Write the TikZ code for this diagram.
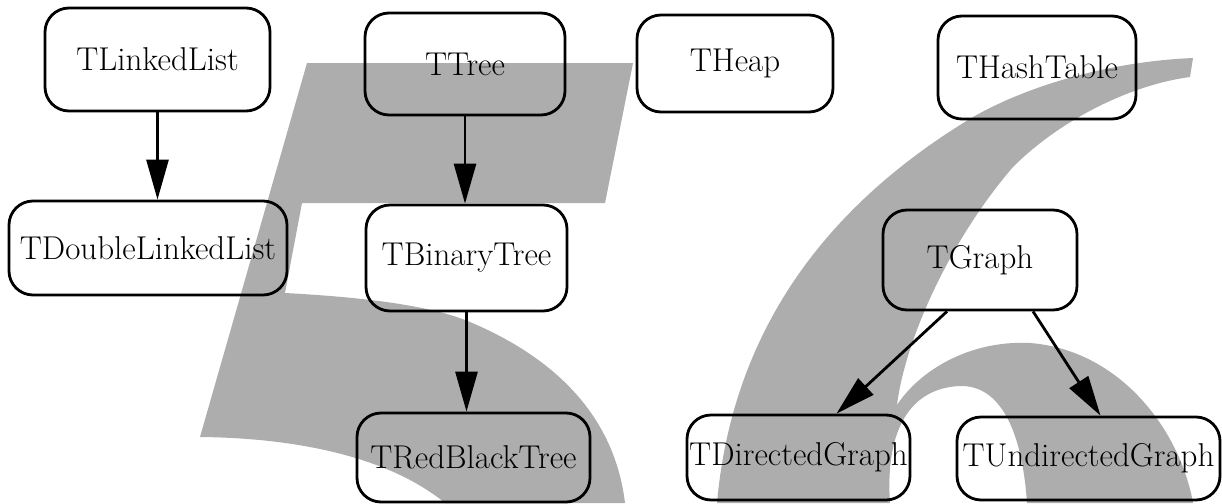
\documentclass[tikz,border=0pt]{standalone}
\usetikzlibrary{arrows.meta}
\begin{document}
\begin{tikzpicture}[x=1pt,y=-1pt,
  cls/.style={draw,line width=2.8pt,rounded corners=24pt,inner sep=0pt,
    font=\fontsize{33}{38}\selectfont},
  inh/.style={line width=2.8pt,-{Triangle[length=40pt,width=22pt]}},
  shade/.style={fill=gray!64}]
\useasboundingbox (0,0) rectangle (1222,503);
% large five behind the list and tree classes
\fill[shade] (307,63) -- (633,63) -- (605,203) -- (302,203) -- (285,293)
  .. controls (360,297) and (430,305) .. (470,322)
  .. controls (560,360) and (615,420) .. (625,503)
  -- (445,503) .. controls (390,458) and (300,438) .. (200,437) -- cycle;
% large six behind the graph classes
\fill[shade] (1193,58) .. controls (1100,62) and (1020,90) .. (973,117)
  .. controls (860,185) and (735,300) .. (717,503)
  -- (890,503) .. controls (885,430) and (910,388) .. (960,386)
  .. controls (1000,385) and (1022,430) .. (1027,503)
  -- (1193,503) .. controls (1180,430) and (1120,350) .. (1030,343)
  .. controls (970,340) and (920,370) .. (897,405)
  .. controls (905,340) and (950,240) .. (1013,167)
  .. controls (1060,120) and (1130,85) .. (1190,77) -- cycle;
% classes
\node[cls,minimum width=225pt,minimum height=103pt] (linkedlist) at (157.5,59.5) {TLinkedList};
\node[cls,minimum width=278pt,minimum height=94pt] (dlinkedlist) at (148,248) {TDoubleLinkedList};
\node[cls,minimum width=200pt,minimum height=102pt] (tree) at (465,64) {TTree};
\node[cls,minimum width=196pt,minimum height=97pt] (heap) at (735,63.5) {THeap};
\node[cls,minimum width=198pt,minimum height=103pt] (hashtable) at (1037,67.5) {THashTable};
\node[cls,minimum width=201pt,minimum height=106pt] (bintree) at (466.5,258) {TBinaryTree};
\node[cls,minimum width=233pt,minimum height=89pt] (rbtree) at (473.5,457.5) {TRedBlackTree};
\node[cls,minimum width=194pt,minimum height=100pt] (graph) at (980,260) {TGraph};
\node[cls,minimum width=223pt,minimum height=85pt] (digraph) at (798.5,457.5) {TDirectedGraph};
\node[cls,minimum width=263pt,minimum height=83pt] (undigraph) at (1088.5,458.5) {TUndirectedGraph};
% inheritance
\draw[inh] (linkedlist.south) -- (linkedlist.south |- dlinkedlist.north);
\draw[inh] (tree.south) -- (tree.south |- bintree.north);
\draw[inh] (bintree.south) -- (bintree.south |- rbtree.north);
\draw[inh] ([xshift=-33pt]graph.south) -- ([xshift=38pt]digraph.north);
\draw[inh] ([xshift=53pt]graph.south) -- ([xshift=12pt]undigraph.north);
\end{tikzpicture}
\end{document}
